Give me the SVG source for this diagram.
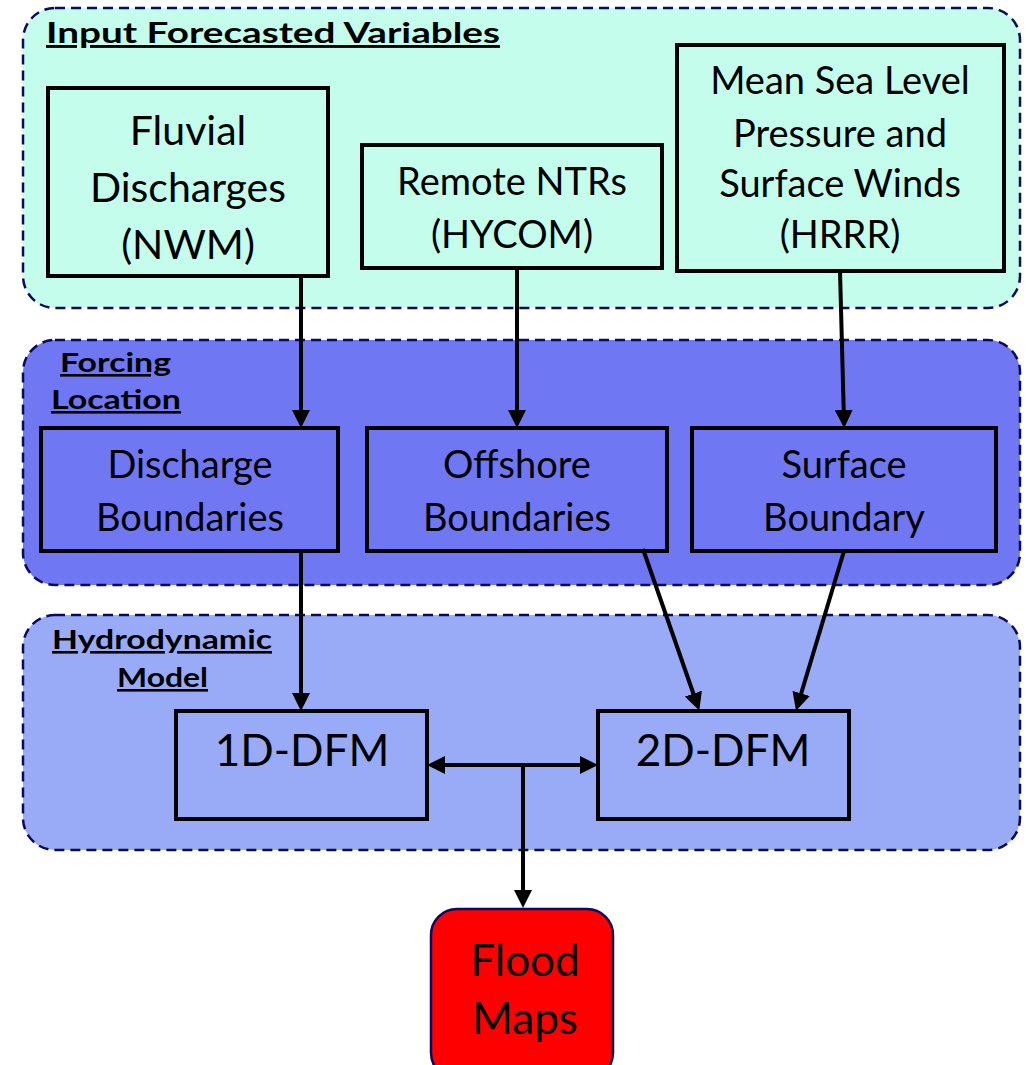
<svg xmlns="http://www.w3.org/2000/svg" width="1030" height="1065" viewBox="0 0 1030 1065">
<style>
.grp{stroke:#0b0b5c;stroke-width:2.5;stroke-dasharray:10 6}
.box{stroke:#000;stroke-width:4}
.t{font-family:Lato,"Open Sans","Liberation Sans",sans-serif;fill:#000;text-anchor:middle}
.lbl{font-family:Lato,"Liberation Sans",sans-serif;font-weight:bold;fill:#000;text-decoration:underline}
.c{stroke:#000;stroke-width:4;fill:none}
</style>
<defs>
<marker id="ah" markerUnits="userSpaceOnUse" markerWidth="18" markerHeight="18" viewBox="0 0 18 18" refX="11" refY="9" orient="auto-start-reverse">
<path d="M0,0 L18,9 L0,18 z" fill="#000"/>
</marker>
</defs>
<rect width="1030" height="1065" fill="#fff"/>
<g id="group-input">
<rect class="grp" x="23" y="8" width="997" height="300" rx="32" fill="#c4fdeb"/>
<text class="lbl" x="46" y="43" font-size="29" textLength="454" lengthAdjust="spacingAndGlyphs">Input Forecasted Variables</text>
</g>
<g id="group-forcing">
<rect class="grp" x="23" y="340" width="997" height="245" rx="32" fill="#7077f3"/>
<text class="lbl" x="60" y="372" font-size="26" textLength="111" lengthAdjust="spacingAndGlyphs">Forcing</text>
<text class="lbl" x="51" y="409" font-size="26" textLength="130" lengthAdjust="spacingAndGlyphs">Location</text>
</g>
<g id="group-hydro">
<rect class="grp" x="23" y="615" width="997" height="235" rx="32" fill="#99abf7"/>
<text class="lbl" x="52" y="649" font-size="26" textLength="220" lengthAdjust="spacingAndGlyphs">Hydrodynamic</text>
<text class="lbl" x="117" y="687" font-size="26" textLength="91" lengthAdjust="spacingAndGlyphs">Model</text>
</g>
<g id="node-fluvial">
<rect class="box" x="48" y="88" width="280" height="188" fill="#c4fdeb"/>
<text class="t" x="188" y="145" font-size="41">Fluvial</text>
<text class="t" x="188" y="202" font-size="41">Discharges</text>
<text class="t" x="188" y="259" font-size="41">(NWM)</text>
</g>
<g id="node-remote">
<rect class="box" x="362" y="145" width="300" height="123" fill="#c4fdeb"/>
<text class="t" x="512" y="195" font-size="38">Remote NTRs</text>
<text class="t" x="512" y="248" font-size="38">(HYCOM)</text>
</g>
<g id="node-mslp">
<rect class="box" x="677" y="45" width="327" height="226" fill="#c4fdeb"/>
<text class="t" x="840" y="94" font-size="38">Mean Sea Level</text>
<text class="t" x="840" y="147" font-size="38">Pressure and</text>
<text class="t" x="840" y="197" font-size="38">Surface Winds</text>
<text class="t" x="840" y="248" font-size="38">(HRRR)</text>
</g>
<g id="node-discharge">
<rect class="box" x="41" y="428" width="297" height="123" fill="#7077f3"/>
<text class="t" x="190" y="478" font-size="38">Discharge</text>
<text class="t" x="190" y="531" font-size="38">Boundaries</text>
</g>
<g id="node-offshore">
<rect class="box" x="367" y="428" width="300" height="123" fill="#7077f3"/>
<text class="t" x="517" y="478" font-size="38">Offshore</text>
<text class="t" x="517" y="531" font-size="38">Boundaries</text>
</g>
<g id="node-surface">
<rect class="box" x="692" y="428" width="304" height="123" fill="#7077f3"/>
<text class="t" x="844" y="478" font-size="38">Surface</text>
<text class="t" x="844" y="531" font-size="38">Boundary</text>
</g>
<g id="node-1d">
<rect class="box" x="176" y="711" width="251" height="108" fill="#99abf7"/>
<text class="t" x="302" y="766" font-size="44">1D-DFM</text>
</g>
<g id="node-2d">
<rect class="box" x="598" y="711" width="251" height="108" fill="#99abf7"/>
<text class="t" x="723" y="766" font-size="44">2D-DFM</text>
</g>
<g id="node-flood">
<rect x="431" y="909" width="182" height="170" rx="26" fill="#ff0000" stroke="#0b0b5c" stroke-width="2.5"/>
<text class="t" x="525" y="976" font-size="44">Flood</text>
<text class="t" x="525" y="1034" font-size="44">Maps</text>
</g>
<g id="connectors">
<line class="c" x1="301" y1="276" x2="301" y2="421" marker-end="url(#ah)"/>
<line class="c" x1="517" y1="268" x2="517" y2="421" marker-end="url(#ah)"/>
<line class="c" x1="840" y1="271" x2="844" y2="421" marker-end="url(#ah)"/>
<line class="c" x1="301" y1="551" x2="301" y2="704" marker-end="url(#ah)"/>
<line class="c" x1="643" y1="549" x2="697" y2="704" marker-end="url(#ah)"/>
<line class="c" x1="844" y1="551" x2="798" y2="704" marker-end="url(#ah)"/>
<line class="c" x1="434" y1="765" x2="591" y2="765" marker-start="url(#ah)" marker-end="url(#ah)"/>
<line class="c" x1="523" y1="765" x2="523" y2="901" marker-end="url(#ah)"/>
</g>
</svg>
